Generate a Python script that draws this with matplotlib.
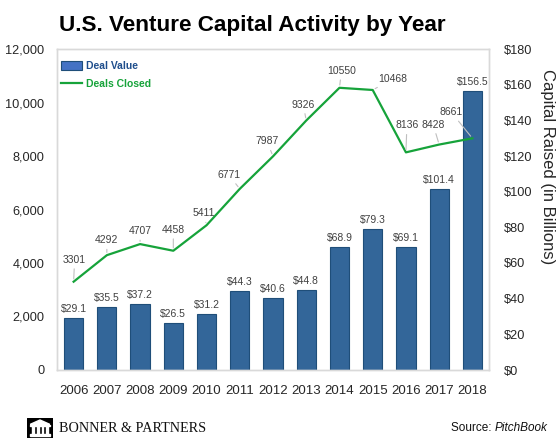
import matplotlib
matplotlib.use('Agg')
import matplotlib.pyplot as plt
from matplotlib.patches import Patch, Rectangle, Polygon
from matplotlib.lines import Line2D
from matplotlib.ticker import FuncFormatter

# data
years = ['2006', '2007', '2008', '2009', '2010', '2011', '2012',
         '2013', '2014', '2015', '2016', '2017', '2018']
deal_value = [29.1, 35.5, 37.2, 26.5, 31.2, 44.3, 40.6, 44.8, 68.9, 79.3, 69.1, 101.4, 156.5]
deals_closed = [3301, 4292, 4707, 4458, 5411, 6771, 7987, 9326, 10550, 10468, 8136, 8428, 8661]

# where each line label sits relative to its point (pixels, right / up)
label_offsets = [(1, 22), (0, 15), (0, 13), (0, 21), (-3, 12), (-11, 14), (-6, 15),
                 (-3, 16), (2, 17), (20, 11), (1, 27), (-6, 20), (-21, 26)]

plt.rcParams['font.family'] = ['Liberation Sans', 'DejaVu Sans']

bar_col = '#336699'
bar_edge = '#1f4e79'
line_col = '#16a33a'
txt_col = '#262626'
lab_col = '#404040'

fig = plt.figure(figsize=(5.6, 4.48), dpi=100)
ax = fig.add_axes([57 / 560, 1 - 370 / 448, 432 / 560, 321 / 448])
ax2 = ax.twinx()

x = list(range(len(years)))

# bars on the right axis
ax2.bar(x, deal_value, width=0.58, color=bar_col, edgecolor=bar_edge, linewidth=0.8, zorder=2)
ax2.set_ylim(0, 180)
ax2.set_yticks(range(0, 181, 20))
ax2.yaxis.set_major_formatter(FuncFormatter(lambda v, p: '$%d' % v))
for xi, v in zip(x, deal_value):
    ax2.annotate('$%.1f' % v, (xi, v), xytext=(0, 4), textcoords='offset pixels',
                 ha='center', va='bottom', fontsize=7.5, color=lab_col)

# line on the left axis, drawn above the bars
ax.set_zorder(ax2.get_zorder() + 1)
ax.patch.set_visible(False)
ax.plot(x, deals_closed, color=line_col, lw=1.6, zorder=3)
ax.set_ylim(0, 12000)
ax.set_yticks(range(0, 12001, 2000))
ax.yaxis.set_major_formatter(FuncFormatter(lambda v, p: '{:,.0f}'.format(v)))
for xi, v, (dx, dy) in zip(x, deals_closed, label_offsets):
    ax.annotate(str(v), (xi, v), xytext=(dx, dy), textcoords='offset pixels',
                ha='center', va='center', fontsize=7.5, color=lab_col,
                arrowprops=dict(arrowstyle='-', color='#bfbfbf', lw=0.8,
                                shrinkA=1, shrinkB=2))

ax.set_xlim(-0.5, len(years) - 0.5)
ax.set_xticks(x)
ax.set_xticklabels(years)

for a in (ax, ax2):
    for s in a.spines.values():
        s.set_color('#d9d9d9')
        s.set_linewidth(1)
    a.tick_params(length=0, labelsize=9.2, colors=txt_col)
ax.tick_params(axis='x', labelsize=9.5, pad=11)
ax.tick_params(axis='y', pad=9)
ax2.tick_params(axis='y', pad=11)

# legend
handles = [Patch(facecolor='#4472c4', edgecolor=bar_edge, linewidth=0.8),
           Line2D([0], [0], color=line_col, lw=1.6)]
leg = ax.legend(handles, ['Deal Value', 'Deals Closed'], loc='upper left',
                bbox_to_anchor=(0.008, 0.965), frameon=False, borderaxespad=0,
                borderpad=0.1, handlelength=2.0, handleheight=0.9,
                handletextpad=0.4, labelspacing=0.7,
                prop={'size': 7.5, 'weight': 'bold'})
leg.get_texts()[0].set_color('#1f4e8c')
leg.get_texts()[1].set_color(line_col)

# titles and text
fig.text(252 / 560, 1 - 25 / 448, 'U.S. Venture Capital Activity by Year',
         ha='center', va='center', fontsize=16.2, weight='bold', color='black')
fig.text(547 / 560, 1 - 167 / 448, 'Capital Raised (in Billions)', rotation=270,
         ha='center', va='center', fontsize=12, color=txt_col)

# footer
fig.text(59 / 560, 1 - 428 / 448, 'BONNER & PARTNERS', ha='left', va='center',
         fontsize=10.2, color='#111111', family=['Liberation Serif', 'DejaVu Serif'])
fig.text(548 / 560, 1 - 428 / 448, 'Source: ', ha='right', va='center', fontsize=8.5,
         color='#111111')
src = fig.text(548 / 560, 1 - 428 / 448, 'PitchBook', ha='right', va='center',
               fontsize=8.5, style='italic', color='#111111')
fig.canvas.draw()
bb = src.get_window_extent()
fig.texts[-2].set_x(bb.x0 / fig.bbox.width)

# little building logo
lax = fig.add_axes([27 / 560, 1 - 438 / 448, 26 / 560, 20 / 448])
lax.set_xlim(0, 1)
lax.set_ylim(0, 1)
lax.axis('off')
lax.add_patch(Rectangle((0, 0), 1, 1, color='black'))
lax.add_patch(Polygon([(0.12, 0.68), (0.5, 0.9), (0.88, 0.68)], color='white'))
lax.add_patch(Rectangle((0.12, 0.6), 0.76, 0.06, color='white'))
for cx in (0.2, 0.38, 0.56, 0.74):
    lax.add_patch(Rectangle((cx, 0.2), 0.07, 0.38, color='white'))
lax.add_patch(Rectangle((0.1, 0.12), 0.8, 0.07, color='white'))

fig.savefig('out.png', dpi=100)
